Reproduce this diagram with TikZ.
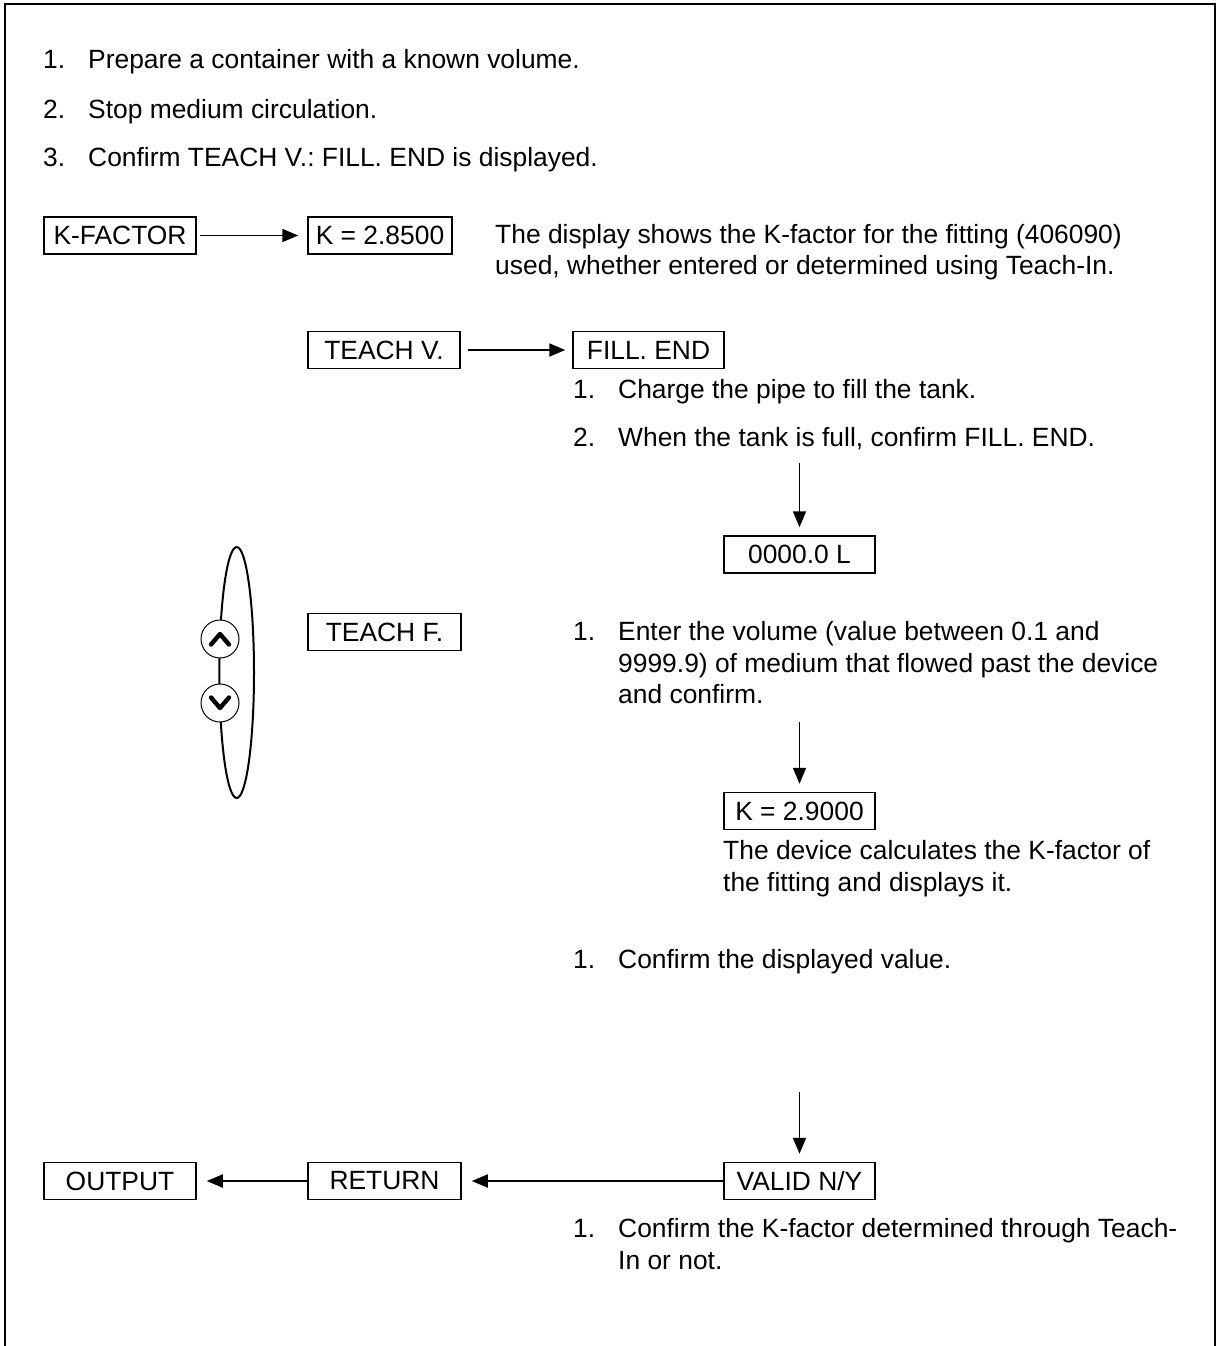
\documentclass[tikz,border=0pt]{standalone}
\usepackage{fontspec}
\setmainfont{Liberation Sans}
\usetikzlibrary{arrows.meta}
\frenchspacing
\begin{document}
\begin{tikzpicture}[x=1pt,y=-1pt,
  every node/.style={font=\fontsize{26.4}{31.5}\selectfont, inner sep=0pt},
  txt/.style={anchor=base west},
  dbox/.style={draw, line width=1.5pt, minimum height=37pt, inner sep=0pt},
  arr/.style={line width=1.8pt, -{Triangle[length=16pt,width=13pt]}},
  btn/.style={circle, draw, line width=1pt, fill=white, minimum size=38pt},
  chev/.style={line width=4.4pt, line cap=round, line join=round},
]
\useasboundingbox (0,0) rectangle (1219,1346);
% frame (open at bottom)
\draw[line width=2pt] (5,1346) -- (5,4) -- (1215,4) -- (1215,1346);

% top list
\node[txt] (n1) at (43,69) {1.};
\node[txt] (t1) at (88,69) {Prepare a container with a known volume.};
\node[txt] (n2) at (43,118) {2.};
\node[txt] (t2) at (88,118) {Stop medium circulation.};
\node[txt] (n3) at (43,166) {3.};
\node[txt] (t3) at (88,166) {Confirm TEACH V.: FILL. END is displayed.};

% row K-factor
\node[dbox, minimum width=152pt] (kf) at (120,235.5) {K-FACTOR};
\node[dbox, minimum width=144pt] (k1) at (380,235.5) {K = 2.8500};
\draw[arr, shorten <=3pt, shorten >=9pt] (kf.east) -- (k1.west);
\node[txt] (d1) at (495,243) {The display shows the K-factor for the fitting (406090)};
\node[txt] (d2) at (495,274) {used, whether entered or determined using Teach-In.};

% row TEACH V.
\node[dbox, minimum width=152pt] (tv) at (384,350) {TEACH V.};
\node[dbox, minimum width=151pt] (fe) at (648.5,350) {FILL. END};
\draw[arr, shorten <=7pt, shorten >=7pt] (tv.east) -- (fe.west);
\node[txt] (c1n) at (573,398) {1.};
\node[txt] (c1) at (618,398) {Charge the pipe to fill the tank.};
\node[txt] (c2n) at (573,446) {2.};
\node[txt] (c2) at (618,446) {When the tank is full, confirm FILL. END.};

\node[dbox, minimum width=151pt] (zl) at (799.5,554.5) {0000.0 L};
\coordinate (a1) at (799.5,463);
\draw[arr, shorten >=8pt] (a1) -- (zl.north);

% up/down keys
\draw[line width=2pt] (236.7,672.5) ellipse [x radius=17.3, y radius=125.5];
\node[btn] (up) at (220,639) {};
\node[btn] (dn) at (220,703) {};
\draw[chev] (211,644.5) -- (220,634) -- (229,644.5);
\draw[chev] (211,697.5) -- (220,708) -- (229,697.5);

% row TEACH F.
\node[dbox, minimum width=153pt] (tf) at (384.5,632) {TEACH F.};
\node[txt] (e1n) at (573,640) {1.};
\node[txt] (e1) at (618,640) {Enter the volume (value between 0.1 and};
\node[txt] (e2) at (618,672) {9999.9) of medium that flowed past the device};
\node[txt] (e3) at (618,703) {and confirm.};

\node[dbox, minimum width=151pt] (k2) at (799.5,811) {K = 2.9000};
\coordinate (a2) at (799.5,722);
\draw[arr, shorten >=8pt] (a2) -- (k2.north);
\node[txt] (f1) at (723,859) {The device calculates the K-factor of};
\node[txt] (f2) at (723,891) {the fitting and displays it.};

\node[txt] (g1n) at (573,968) {1.};
\node[txt] (g1) at (618,968) {Confirm the displayed value.};

% bottom row
\node[dbox, minimum width=151pt] (vn) at (799.5,1181) {VALID N/Y};
\coordinate (a3) at (799.5,1092);
\draw[arr, shorten >=8pt] (a3) -- (vn.north);
\node[dbox, minimum width=153pt] (rt) at (384.5,1181) {RETURN};
\node[dbox, minimum width=152pt] (op) at (120,1181) {OUTPUT};
\draw[arr, shorten >=10pt] (vn.west) -- (rt.east);
\draw[arr, shorten >=10pt] (rt.west) -- (op.east);

\node[txt] (h1n) at (573,1237) {1.};
\node[txt] (h1) at (618,1237) {Confirm the K-factor determined through Teach-};
\node[txt] (h2) at (618,1269) {In or not.};
\end{tikzpicture}
\end{document}
